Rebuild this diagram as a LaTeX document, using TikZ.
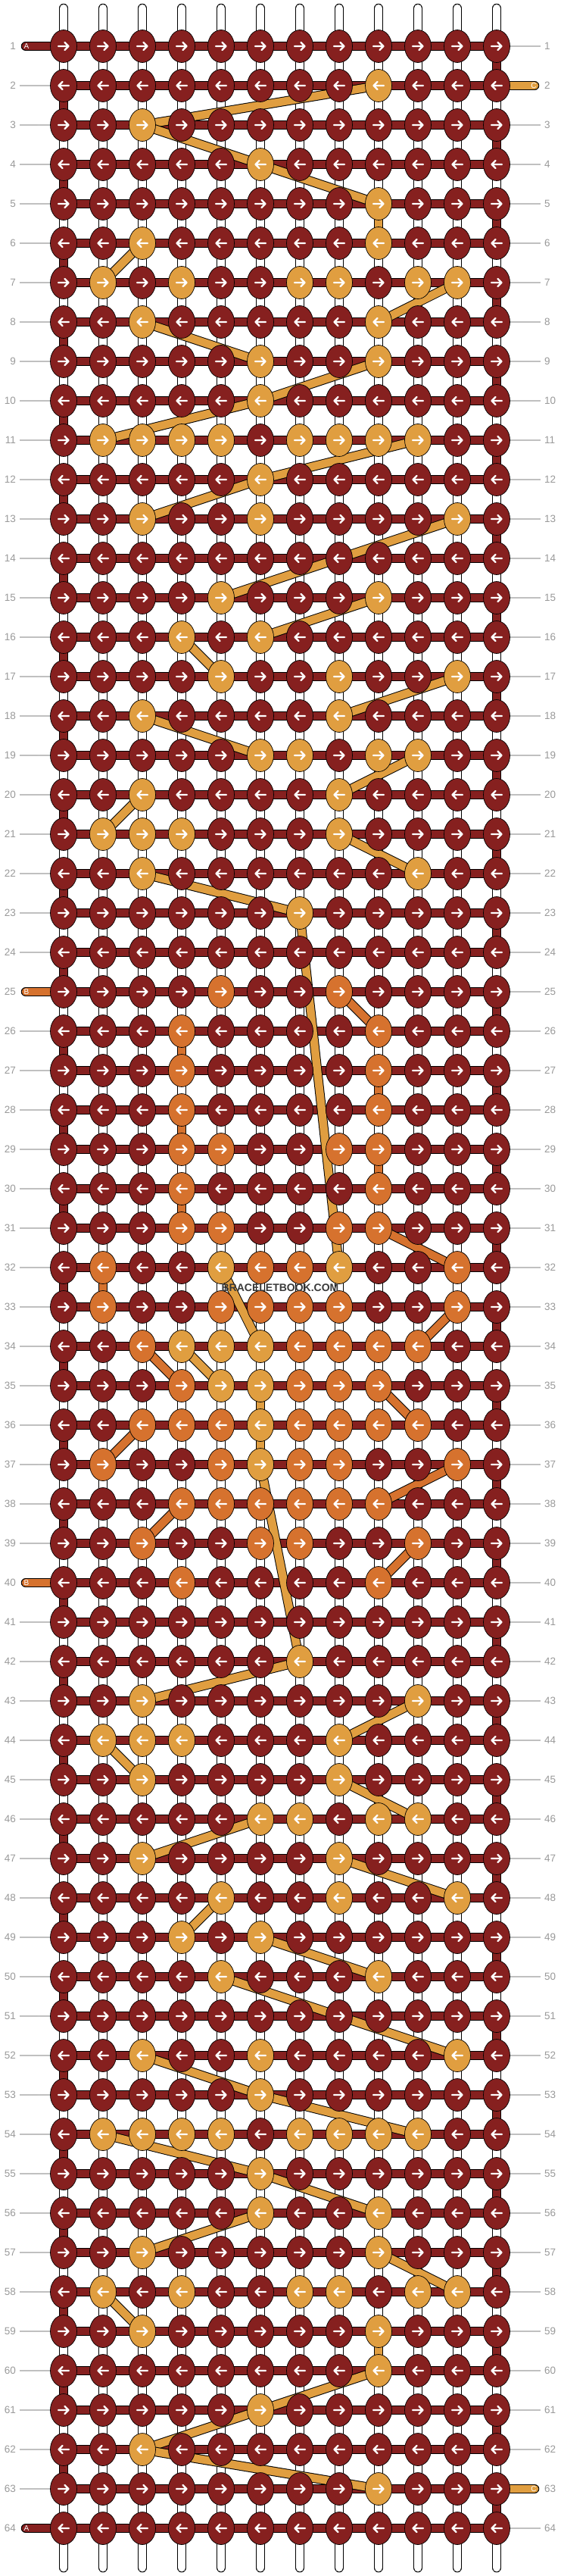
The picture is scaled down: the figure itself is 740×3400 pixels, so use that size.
\documentclass[tikz,border=0pt]{standalone}
\usepackage{fontspec}
\setmainfont{Liberation Sans}
\usetikzlibrary{shapes.geometric}
\pgfdeclarelayer{bgl}
\pgfdeclarelayer{thr}
\pgfdeclarelayer{dia}
\pgfsetlayers{bgl,thr,dia,main}
\definecolor{kR}{HTML}{86201F}
\definecolor{kY}{HTML}{E09E40}
\definecolor{kO}{HTML}{D6722E}
\definecolor{labc}{HTML}{9A9A9A}
\definecolor{gline}{HTML}{C0C0C0}
\definecolor{wmc}{HTML}{3A3A3A}
\tikzset{
  knot/.style={ellipse, draw=black, line width=0.7pt, minimum width=35pt, minimum height=43pt, inner sep=0pt},
  arw/.style={white, line width=2.4pt, line cap=round, line join=round},
  lab/.style={text=labc, font=\fontsize{13.5}{14}\selectfont, inner sep=0pt},
  gl/.style={gline, line width=1.2pt},
  stubtxt/.style={text=white, font=\fontsize{10}{10}\selectfont, inner sep=0pt},
  ob/.style={black, line width=12.5pt},
  oc/.style={line width=10.5pt},
}
\begin{document}
\begin{tikzpicture}[x=1pt,y=-1pt]
\useasboundingbox (0,0) rectangle (740,3400);
\begin{pgfonlayer}{bgl}
\fill[white] (0,0) rectangle (740,3400);
\end{pgfonlayer}
% knots
\foreach \r/\row in {
1/{R,R,R,R,R,R,R,R,R,R,R,R},
2/{R,R,R,R,R,R,R,R,Y,R,R,R},
3/{R,R,Y,R,R,R,R,R,R,R,R,R},
4/{R,R,R,R,R,Y,R,R,R,R,R,R},
5/{R,R,R,R,R,R,R,R,Y,R,R,R},
6/{R,R,Y,R,R,R,R,R,Y,R,R,R},
7/{R,Y,R,Y,R,R,Y,Y,R,Y,Y,R},
8/{R,R,Y,R,R,R,R,R,Y,R,R,R},
9/{R,R,R,R,R,Y,R,R,Y,R,R,R},
10/{R,R,R,R,R,Y,R,R,R,R,R,R},
11/{R,Y,Y,Y,Y,R,Y,Y,Y,Y,R,R},
12/{R,R,R,R,R,Y,R,R,R,R,R,R},
13/{R,R,Y,R,R,Y,R,R,R,R,Y,R},
14/{R,R,R,R,R,R,R,R,R,R,R,R},
15/{R,R,R,R,Y,R,R,R,Y,R,R,R},
16/{R,R,R,Y,R,Y,R,R,R,R,R,R},
17/{R,R,R,R,Y,R,R,Y,R,R,Y,R},
18/{R,R,Y,R,R,R,R,Y,R,R,R,R},
19/{R,R,R,R,R,Y,Y,R,Y,Y,R,R},
20/{R,R,Y,R,R,R,R,Y,R,R,R,R},
21/{R,Y,Y,Y,R,R,R,Y,R,R,R,R},
22/{R,R,Y,R,R,R,R,R,R,Y,R,R},
23/{R,R,R,R,R,R,Y,R,R,R,R,R},
24/{R,R,R,R,R,R,R,R,R,R,R,R},
25/{R,R,R,R,O,R,R,O,R,R,R,R},
26/{R,R,R,O,R,R,R,R,O,R,R,R},
27/{R,R,R,O,R,R,R,R,O,R,R,R},
28/{R,R,R,O,R,R,R,R,O,R,R,R},
29/{R,R,R,O,O,R,R,O,O,R,R,R},
30/{R,R,R,O,R,R,R,R,O,R,R,R},
31/{R,R,R,O,O,R,R,O,O,R,R,R},
32/{R,O,R,R,Y,O,O,Y,R,R,O,R},
33/{R,O,R,R,O,O,O,O,R,R,O,R},
34/{R,R,O,Y,Y,Y,O,O,O,O,R,R},
35/{R,R,R,O,Y,Y,O,O,O,R,R,R},
36/{R,R,O,O,O,Y,O,O,O,O,R,R},
37/{R,O,R,R,O,Y,O,O,R,R,O,R},
38/{R,R,R,O,O,O,O,O,O,R,R,R},
39/{R,R,O,R,R,O,O,R,R,O,R,R},
40/{R,R,R,O,R,R,R,R,O,R,R,R},
41/{R,R,R,R,R,R,R,R,R,R,R,R},
42/{R,R,R,R,R,R,Y,R,R,R,R,R},
43/{R,R,Y,R,R,R,R,R,R,Y,R,R},
44/{R,Y,Y,Y,R,R,R,Y,R,R,R,R},
45/{R,R,Y,R,R,R,R,Y,R,R,R,R},
46/{R,R,R,R,R,Y,Y,R,Y,Y,R,R},
47/{R,R,Y,R,R,R,R,Y,R,R,R,R},
48/{R,R,R,R,Y,R,R,Y,R,R,Y,R},
49/{R,R,R,Y,R,Y,R,R,R,R,R,R},
50/{R,R,R,R,Y,R,R,R,Y,R,R,R},
51/{R,R,R,R,R,R,R,R,R,R,R,R},
52/{R,R,Y,R,R,Y,R,R,R,R,Y,R},
53/{R,R,R,R,R,Y,R,R,R,R,R,R},
54/{R,Y,Y,Y,Y,R,Y,Y,Y,Y,R,R},
55/{R,R,R,R,R,Y,R,R,R,R,R,R},
56/{R,R,R,R,R,Y,R,R,Y,R,R,R},
57/{R,R,Y,R,R,R,R,R,Y,R,R,R},
58/{R,Y,R,Y,R,R,Y,Y,R,Y,Y,R},
59/{R,R,Y,R,R,R,R,R,Y,R,R,R},
60/{R,R,R,R,R,R,R,R,Y,R,R,R},
61/{R,R,R,R,R,Y,R,R,R,R,R,R},
62/{R,R,Y,R,R,R,R,R,R,R,R,R},
63/{R,R,R,R,R,R,R,R,Y,R,R,R},
64/{R,R,R,R,R,R,R,R,R,R,R,R}}{
  \pgfmathsetmacro\yy{61+52*(\r-1)}
  \foreach \c [count=\k] in \row {
    \pgfmathsetmacro\xx{84+52*(\k-1)}
    \node[knot, fill=k\c] (k-\r-\k) at (\xx,\yy) {};
    \ifodd\r\relax
      \draw[arw] (\xx-7,\yy) -- (\xx+6.5,\yy) (\xx+1.5,\yy-5) -- (\xx+6.5,\yy) -- (\xx+1.5,\yy+5);
    \else
      \draw[arw] (\xx+7,\yy) -- (\xx-6.5,\yy) (\xx-1.5,\yy-5) -- (\xx-6.5,\yy) -- (\xx-1.5,\yy+5);
    \fi
  }
}
% threads
\begin{pgfonlayer}{thr}
\foreach \k in {1,...,12}{
  \pgfmathsetmacro\xx{84+52*(\k-1)}
  \coordinate (t-\k) at (\xx,11);
  \coordinate (b-\k) at (\xx,3389);
  \draw[ob, line cap=round] (t-\k) -- (k-1-\k.center) (b-\k) -- (k-64-\k.center);
  \draw[oc, white, line cap=round] (t-\k) -- (k-1-\k.center) (b-\k) -- (k-64-\k.center);
  \foreach \r in {1,...,63}{
    \pgfmathtruncatemacro\rn{\r+1}
    \draw[ob] (k-\r-\k.center) -- (k-\rn-\k.center);
    \draw[oc, white] (k-\r-\k.center) -- (k-\rn-\k.center);
  }
}
\foreach \r in {1,3,...,63}{
  \pgfmathtruncatemacro\rn{\r+1}
  \draw[oc, kR] (k-\r-12.center) -- (k-\rn-12.center);
}
\foreach \r in {2,4,...,62}{
  \pgfmathtruncatemacro\rn{\r+1}
  \draw[oc, kR] (k-\r-1.center) -- (k-\rn-1.center);
}
\foreach \r/\k/\cl in {5/9/kY, 26/4/kO, 27/9/kO, 28/4/kO, 29/9/kO, 30/4/kO, 32/2/kO, 35/6/kY, 36/6/kY, 59/9/kY}{
  \pgfmathtruncatemacro\rn{\r+1}
  \draw[oc, \cl] (k-\r-\k.center) -- (k-\rn-\k.center);
}
\foreach \r in {1,...,64}{
  \draw[ob] (k-\r-1.center) -- (k-\r-12.center);
  \draw[oc, kR] (k-\r-1.center) -- (k-\r-12.center);
}
\foreach \r/\cl/\t in {1/kR/A, 25/kO/B, 40/kO/B, 64/kR/A}{
  \pgfmathsetmacro\yy{61+52*(\r-1)}
  \coordinate (sl-\r) at (34,\yy);
  \draw[ob, line cap=round] (sl-\r) -- (k-\r-1.center);
  \draw[oc, \cl, line cap=round] (sl-\r) -- (k-\r-1.center);
  \node[stubtxt] (slt-\r) at (35,\yy) {\t};
}
\foreach \r/\cl/\t in {2/kY/C, 63/kY/C}{
  \pgfmathsetmacro\yy{61+52*(\r-1)}
  \coordinate (sr-\r) at (706,\yy);
  \draw[ob, line cap=round] (sr-\r) -- (k-\r-12.center);
  \draw[oc, \cl, line cap=round] (sr-\r) -- (k-\r-12.center);
  \node[stubtxt] (srt-\r) at (705,\yy) {\t};
}
\end{pgfonlayer}
% carried strings
\begin{pgfonlayer}{dia}
\foreach \pa/\pb/\pc/\pd/\cl in {
2/9/3/3/kY, 3/3/4/6/kY, 4/6/5/9/kY, 6/3/7/2/kY, 7/11/8/9/kY, 8/3/9/6/kY,
9/9/10/6/kY, 10/6/11/2/kY, 11/10/12/6/kY, 12/6/13/3/kY, 13/11/15/5/kY,
15/9/16/6/kY, 16/4/17/5/kY, 17/11/18/8/kY, 18/3/19/6/kY, 19/10/20/8/kY,
20/3/21/2/kY, 21/8/22/10/kY, 22/3/23/7/kY, 23/7/32/8/kY, 32/5/34/6/kY,
34/4/35/5/kY, 37/6/42/7/kY, 42/7/43/3/kY, 43/10/44/8/kY, 44/2/45/3/kY,
45/8/46/10/kY, 46/6/47/3/kY, 47/8/48/11/kY, 48/5/49/4/kY, 49/6/50/9/kY,
50/5/52/11/kY, 52/3/53/6/kY, 53/6/54/10/kY, 54/2/55/6/kY, 55/6/56/9/kY,
56/6/57/3/kY, 57/9/58/11/kY, 58/2/59/3/kY, 60/9/61/6/kY, 61/6/62/3/kY,
62/3/63/9/kY,
25/8/26/9/kO, 31/9/32/11/kO, 33/11/34/10/kO, 34/3/35/4/kO, 35/9/36/10/kO,
36/3/37/2/kO, 37/11/38/9/kO, 38/4/39/3/kO, 39/10/40/9/kO}{
  \draw[ob] (k-\pa-\pb.center) -- (k-\pc-\pd.center);
  \draw[oc, \cl] (k-\pa-\pb.center) -- (k-\pc-\pd.center);
}
\end{pgfonlayer}
% labels
\foreach \r in {1,...,64}{
  \pgfmathsetmacro\yy{61+52*(\r-1)}
  \node[lab, anchor=east] (ll-\r) at (21,\yy) {\r};
  \node[lab, anchor=west] (rl-\r) at (719,\yy) {\r};
  \pgfmathtruncatemacro\sL{(\r==1)||(\r==25)||(\r==40)||(\r==64)}
  \pgfmathtruncatemacro\sR{(\r==2)||(\r==63)}
  \ifnum\sL=0 \draw[gl] ([xshift=5pt]ll-\r.east) -- (k-\r-1.west);\fi
  \ifnum\sR=0 \draw[gl] (k-\r-12.east) -- ([xshift=-5pt]rl-\r.west);\fi
}
\node[font=\bfseries\fontsize{14}{14}\selectfont, text=wmc, inner sep=0pt] (wm) at (370,1700) {BRACELETBOOK.COM};
\end{tikzpicture}
\end{document}
